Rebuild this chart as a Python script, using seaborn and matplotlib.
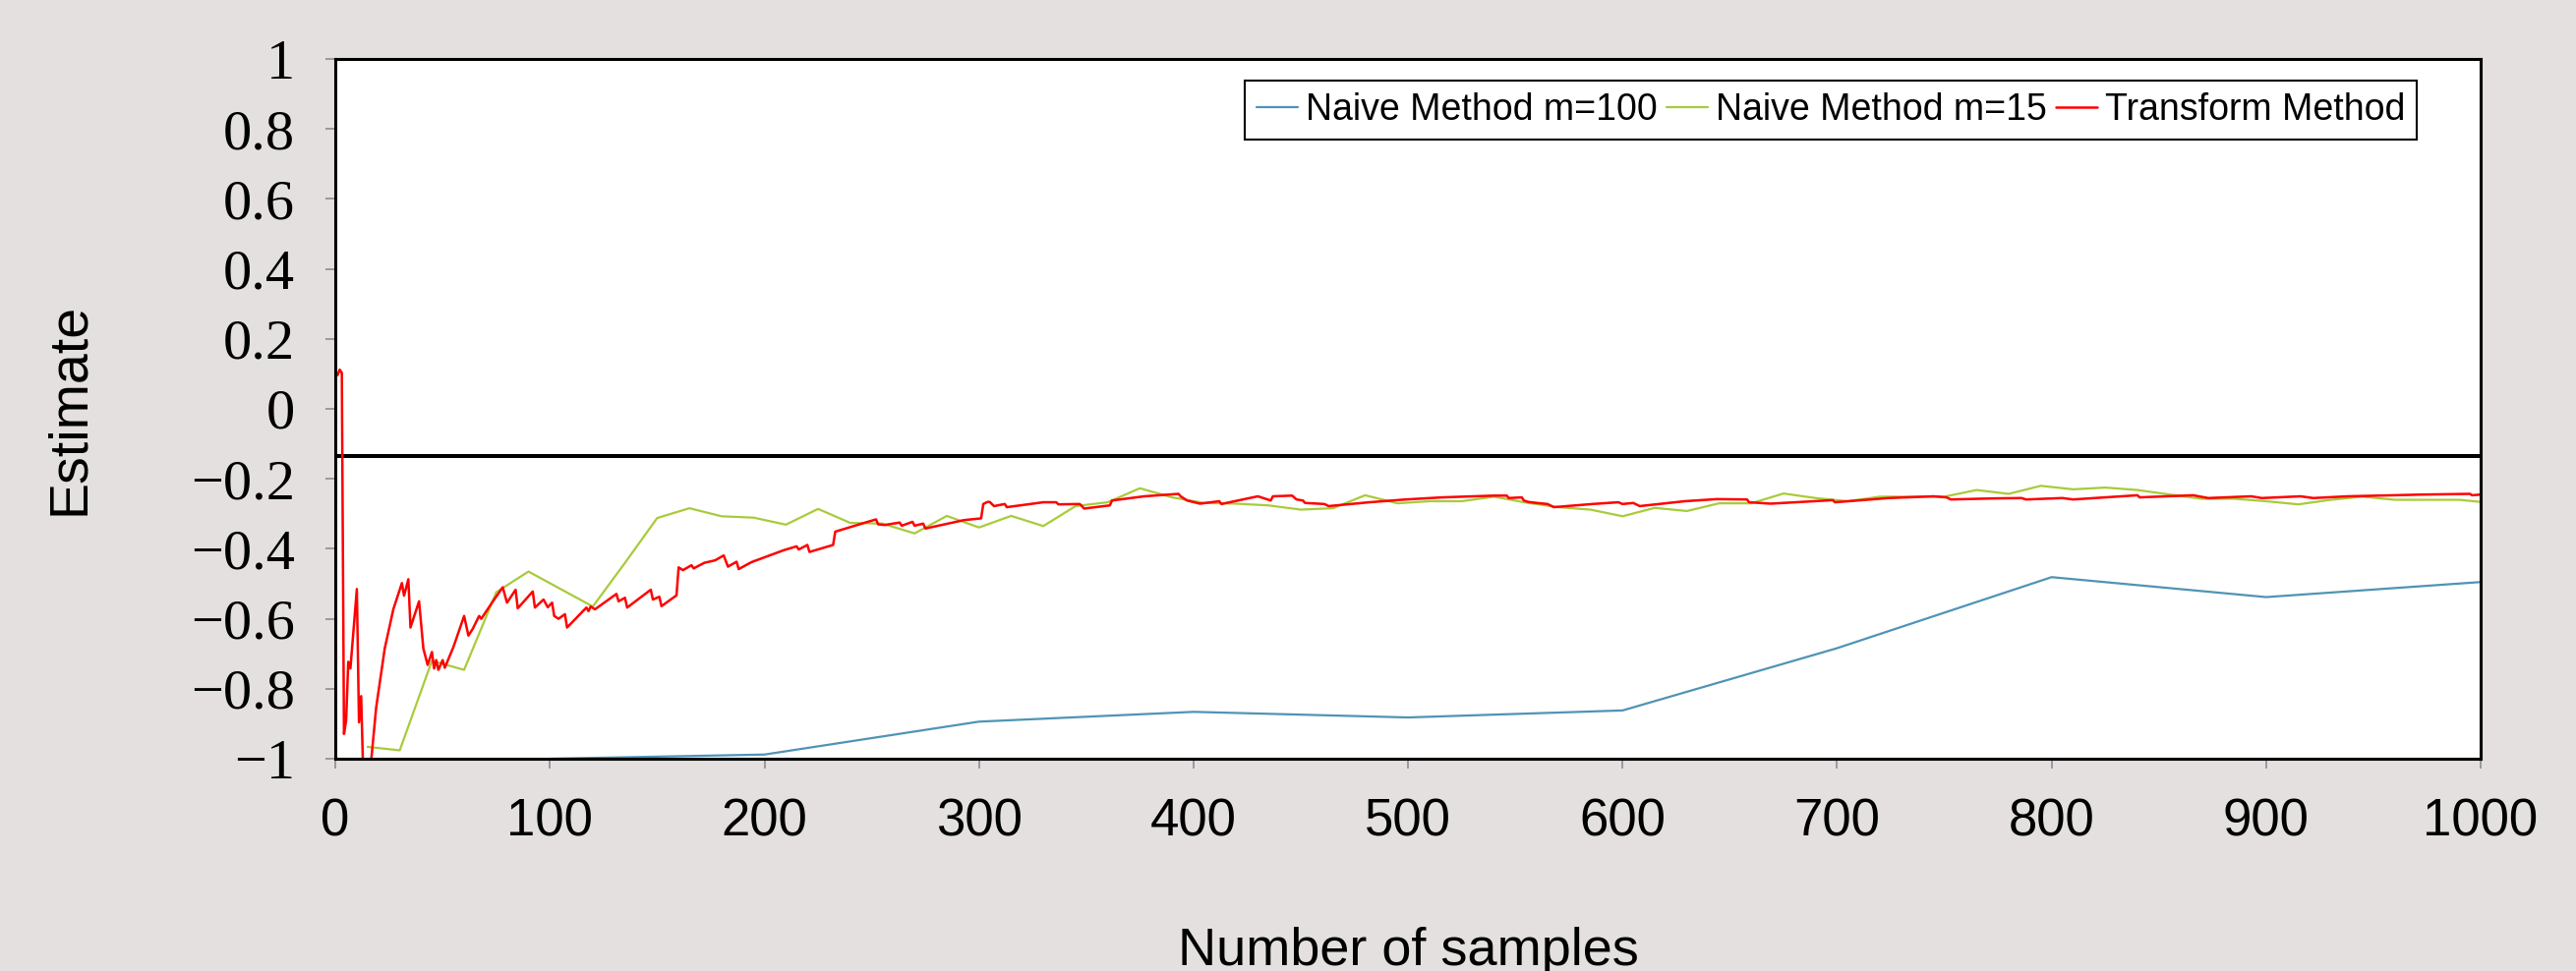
import numpy as np
import pandas as pd
import matplotlib
matplotlib.use("Agg")
import matplotlib.pyplot as plt
import seaborn as sns

# Naive method, m=100 (one estimate every 100 samples)
naive100_x = [100, 200, 300, 400, 500, 600, 700, 800, 900, 1000]
naive100_y = [-1.0, -0.988, -0.894, -0.866, -0.882, -0.862, -0.684, -0.481, -0.538, -0.495]

# Naive method, m=15 (one estimate every 15 samples)
naive15_x = [15, 30, 45, 60, 75, 90, 105, 120, 135, 150, 165, 180, 195, 210, 225,
             240, 255, 270, 285, 300, 315, 330, 345, 360, 375, 390, 405, 420, 435,
             450, 465, 480, 495, 510, 525, 540, 555, 570, 585, 600, 615, 630, 645,
             660, 675, 690, 705, 720, 735, 750, 765, 780, 795, 810, 825, 840, 855,
             870, 885, 900, 915, 930, 945, 960, 975, 990, 1000]
naive15_y = [-0.966, -0.976, -0.72, -0.746, -0.524, -0.465, -0.515, -0.565, -0.44,
             -0.312, -0.284, -0.307, -0.311, -0.331, -0.286, -0.326, -0.328, -0.356,
             -0.306, -0.339, -0.306, -0.335, -0.278, -0.267, -0.227, -0.253, -0.269,
             -0.271, -0.276, -0.288, -0.284, -0.247, -0.270, -0.264, -0.264, -0.251,
             -0.268, -0.281, -0.288, -0.307, -0.283, -0.292, -0.270, -0.270, -0.242,
             -0.255, -0.264, -0.251, -0.251, -0.251, -0.232, -0.243, -0.220, -0.230,
             -0.225, -0.232, -0.245, -0.257, -0.257, -0.264, -0.273, -0.260, -0.251,
             -0.260, -0.260, -0.260, -0.266]

# Transform method (running estimate)
transform_x = [1, 2, 3, 4, 5, 6, 7, 10, 11, 12, 13, 16, 19, 23, 27, 31, 32, 34, 35,
               39, 41, 43, 45, 46, 47, 48, 50, 51, 55, 60, 62, 64, 67, 68, 73, 78,
               80, 84, 85, 92, 93, 97, 99, 101, 102, 104, 107, 108, 117, 118, 119,
               121, 131, 132, 135, 136, 147, 148, 151, 152, 159, 160, 162, 166, 167,
               172, 177, 181, 183, 187, 188, 194, 209, 215, 216, 220, 221, 232, 233,
               241, 247, 252, 253, 256, 263, 264, 269, 270, 274, 275, 293, 301, 302,
               304, 305, 307, 312, 313, 330, 336, 337, 347, 349, 361, 362, 377, 393,
               394, 397, 403, 412, 413, 430, 436, 437, 446, 448, 451, 452, 461, 463,
               482, 499, 516, 540, 546, 547, 553, 554, 556, 560, 565, 568, 586, 598,
               600, 605, 608, 629, 644, 658, 659, 669, 698, 699, 724, 745, 751, 753,
               773, 786, 788, 805, 810, 840, 841, 866, 873, 893, 898, 916, 922, 938,
               973, 995, 996, 1000]
transform_y = [0.096, 0.112, 0.103, -0.929, -0.891, -0.723, -0.742, -0.515, -0.896,
               -0.821, -1.05, -1.05, -0.854, -0.685, -0.573, -0.498, -0.534, -0.487,
               -0.625, -0.550, -0.685, -0.732, -0.695, -0.742, -0.718, -0.746, -0.718,
               -0.740, -0.681, -0.592, -0.648, -0.629, -0.592, -0.600, -0.554, -0.510,
               -0.554, -0.517, -0.570, -0.522, -0.568, -0.545, -0.567, -0.554, -0.592,
               -0.600, -0.587, -0.625, -0.568, -0.578, -0.565, -0.573, -0.529, -0.550,
               -0.540, -0.568, -0.517, -0.545, -0.537, -0.564, -0.533, -0.453, -0.461,
               -0.447, -0.456, -0.440, -0.433, -0.419, -0.451, -0.437, -0.458, -0.438,
               -0.404, -0.393, -0.402, -0.389, -0.409, -0.389, -0.351, -0.336, -0.325,
               -0.316, -0.330, -0.332, -0.325, -0.334, -0.323, -0.334, -0.328, -0.342,
               -0.318, -0.313, -0.272, -0.266, -0.266, -0.278, -0.272, -0.281, -0.267,
               -0.267, -0.273, -0.272, -0.285, -0.276, -0.262, -0.250, -0.243, -0.250,
               -0.262, -0.271, -0.264, -0.272, -0.250, -0.262, -0.250, -0.248, -0.259,
               -0.262, -0.269, -0.272, -0.278, -0.267, -0.259, -0.253, -0.248, -0.248,
               -0.255, -0.253, -0.262, -0.266, -0.269, -0.272, -0.281, -0.272, -0.267,
               -0.272, -0.269, -0.278, -0.264, -0.258, -0.259, -0.267, -0.271, -0.261,
               -0.267, -0.255, -0.250, -0.253, -0.259, -0.256, -0.255, -0.259, -0.255,
               -0.259, -0.247, -0.253, -0.247, -0.255, -0.250, -0.255, -0.250, -0.255,
               -0.250, -0.245, -0.243, -0.247, -0.245]

# true value (reference line)
true_value = -0.135

y_ticks = [1, 0.8, 0.6, 0.4, 0.2, 0, -0.2, -0.4, -0.6, -0.8, -1]
x_ticks = [0, 100, 200, 300, 400, 500, 600, 700, 800, 900, 1000]

blue = "#4F94B4"
green = "#A8CB3A"
red = "#FF0000"
bg = "#E3E0DF"

sns.set_style("white")
plt.rcParams['font.family'] = ['Liberation Sans', 'DejaVu Sans']
plt.rcParams['text.color'] = 'black'
plt.rcParams['axes.labelcolor'] = 'black'
plt.rcParams['xtick.color'] = 'black'
plt.rcParams['ytick.color'] = 'black'

fig = plt.figure(figsize=(26.2, 9.88), dpi=100)
fig.set_facecolor(bg)
ax = fig.add_axes([0.1302, 0.2186, 0.8328, 0.7207])
ax.set_facecolor("white")

sns.lineplot(x=naive100_x, y=naive100_y, ax=ax, color=blue, linewidth=1.6,
             label="Naive Method m=100")
sns.lineplot(x=naive15_x, y=naive15_y, ax=ax, color=green, linewidth=1.6,
             label="Naive Method m=15")
sns.lineplot(x=transform_x, y=transform_y, ax=ax, color=red, linewidth=1.8,
             label="Transform Method", sort=False)
ax.axhline(true_value, color="black", linewidth=2.9, zorder=1)

ax.set_xlim(0, 1000)
ax.set_ylim(-1, 1)
ax.set_xticks(x_ticks)
ax.set_yticks(y_ticks)
ax.set_xticklabels([str(t) for t in x_ticks], fontsize=38, family=['Liberation Sans', 'DejaVu Sans'])
ax.set_yticklabels(["%g" % t if t >= 0 else "\u2212%g" % abs(t) for t in y_ticks],
                   fontsize=42, family=['Liberation Serif', 'DejaVu Serif'])
ax.tick_params(axis='both', direction='out', length=7.5, width=1.4, color='#9a9a9a',
               labelcolor='black', left=True, bottom=True)
ax.tick_params(axis='y', pad=22)
ax.tick_params(axis='x', pad=21)

for s in ax.spines.values():
    s.set_color("black")
    s.set_linewidth(2.2)

ax.set_xlabel("Number of samples", fontsize=39)
ax.set_ylabel("Estimate", fontsize=40)
ax.xaxis.set_label_coords(0.5, -0.24)
ax.yaxis.set_label_coords(-0.112, 0.5)

leg = ax.legend(ncol=3, loc='upper right', bbox_to_anchor=(0.9382, 0.917),
                bbox_transform=fig.transFigure, fontsize=27, handlelength=1.12,
                handletextpad=0.21, columnspacing=0.24, borderpad=0.32,
                frameon=True, fancybox=False, framealpha=1, borderaxespad=0)
leg.get_frame().set_edgecolor("black")
leg.get_frame().set_linewidth(1.5)

fig.savefig("out.png", dpi=100, facecolor=bg)
